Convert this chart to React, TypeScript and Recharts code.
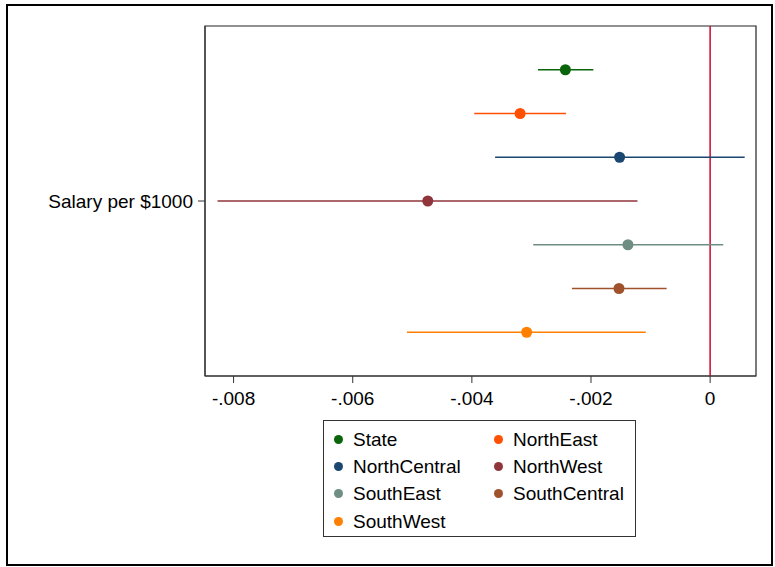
import React from 'react';
import { ScatterChart, Scatter, XAxis, YAxis, ErrorBar, ReferenceLine, ReferenceArea } from 'recharts';

// coefficient on salary per $1000, by region, with confidence bounds
const regions = ['State', 'NorthEast', 'NorthCentral', 'NorthWest', 'SouthEast', 'SouthCentral', 'SouthWest'];
const estimates = [-0.00243, -0.00319, -0.00152, -0.00474, -0.00138, -0.00153, -0.00308];
const lowerCI = [-0.00289, -0.00396, -0.00361, -0.00827, -0.00297, -0.00232, -0.00509];
const upperCI = [-0.00196, -0.00242, 0.00058, -0.00122, 0.00022, -0.00073, -0.00108];
const regionColors = ['#0a640a', '#ff4f00', '#1a476f', '#90353b', '#6e8e84', '#a0522d', '#ff7f00'];
const xTicks = [-0.008, -0.006, -0.004, -0.002, 0];
const coefLabel = 'Salary per $1000';

const FONT = '"Liberation Sans", Arial, Helvetica, sans-serif';
const X_DOMAIN: [number, number] = [-0.00848, 0.00077];
const Y_DOMAIN: [number, number] = [0, 8];

const fmtTick = (v: number) => (v === 0 ? '0' : v.toFixed(3).replace('0.', '.'));

const Dot = (props: any) => {
  const { cx, cy, fill } = props;
  if (cx == null || cy == null) return null;
  return <circle cx={cx} cy={cy} r={5.5} fill={fill} />;
};

const series = regions.map((name, i) => ({
  name,
  color: regionColors[i],
  data: [{ x: estimates[i], y: i + 1, err: [estimates[i] - lowerCI[i], upperCI[i] - estimates[i]] }],
}));

const Legend = () => (
  <div
    style={{
      position: 'absolute',
      left: 323,
      top: 420,
      width: 313,
      height: 117,
      boxSizing: 'border-box',
      border: '1px solid #333',
      background: '#fff',
      fontFamily: FONT,
      fontSize: 19,
      color: '#000',
    }}
  >
    {series.map((s, i) => {
      const col = i % 2;
      const row = Math.floor(i / 2);
      return (
        <div
          key={s.name}
          style={{
            position: 'absolute',
            left: 10 + col * 160,
            top: 5 + row * 27.2,
            height: 27,
            display: 'flex',
            alignItems: 'center',
            whiteSpace: 'nowrap',
          }}
        >
          <span style={{ width: 9, height: 9, borderRadius: '50%', background: s.color, display: 'inline-block' }} />
          <span style={{ marginLeft: 10, lineHeight: '27px' }}>{s.name}</span>
        </div>
      );
    })}
  </div>
);

export default function App() {
  return (
    <div style={{ position: 'absolute', left: 0, top: 0, width: 775, height: 567, background: '#fff', fontFamily: FONT }}>
      <div
        style={{
          position: 'absolute',
          left: 6,
          top: 4,
          width: 767,
          height: 562,
          boxSizing: 'border-box',
          border: '2px solid #000',
        }}
      />
      <div style={{ position: 'absolute', left: 0, top: 0 }}>
        <ScatterChart width={775} height={567} margin={{ top: 26, right: 19, bottom: 151, left: 5 }}>
          <XAxis
            type="number"
            dataKey="x"
            domain={X_DOMAIN}
            allowDataOverflow
            ticks={xTicks}
            tickFormatter={fmtTick}
            tickSize={7}
            tickMargin={9}
            height={40}
            stroke="#333"
            tick={{ fill: '#000', fontSize: 19, fontFamily: FONT }}
          />
          <YAxis
            type="number"
            dataKey="y"
            domain={Y_DOMAIN}
            reversed
            allowDataOverflow
            ticks={[4]}
            tickFormatter={() => coefLabel}
            tickSize={7}
            tickMargin={5}
            width={200}
            stroke="#333"
            tick={{ fill: '#000', fontSize: 19, fontFamily: FONT }}
          />
          <ReferenceArea
            x1={X_DOMAIN[0]}
            x2={X_DOMAIN[1]}
            y1={Y_DOMAIN[0]}
            y2={Y_DOMAIN[1]}
            fill="none"
            stroke="#222"
            strokeWidth={1.2}
          />
          <ReferenceLine x={0} stroke="#d2143c" strokeWidth={1.6} />
          {series.map((s) => (
            <Scatter key={s.name} name={s.name} data={s.data} fill={s.color} shape={<Dot />} isAnimationActive={false}>
              <ErrorBar dataKey="err" direction="x" width={0} stroke={s.color} strokeWidth={1.7} isAnimationActive={false} />
            </Scatter>
          ))}
        </ScatterChart>
      </div>
      <Legend />
    </div>
  );
}
